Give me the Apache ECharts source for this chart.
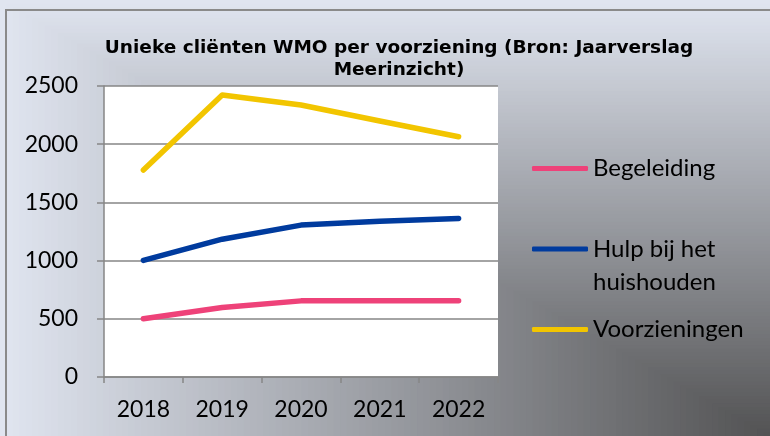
<!DOCTYPE html>
<html>
<head>
<meta charset="utf-8">
<script src="https://cdn.jsdelivr.net/npm/echarts@6/dist/echarts.min.js"></script>
<style>
  html, body { margin: 0; padding: 0; background: #fff; }
  #chart { width: 770px; height: 436px; }
</style>
</head>
<body>
<div id="chart"></div>
<script>
// Unique WMO clients per service, 2018-2022
const years = ['2018', '2019', '2020', '2021', '2022'];
const begeleiding = [500, 597, 654, 655, 656];
const hulpBijHetHuishouden = [1002, 1184, 1305, 1339, 1362];
const voorzieningen = [1778, 2423, 2337, 2199, 2064];
const seriesNames = ['Begeleiding', 'Hulp bij het huishouden', 'Voorzieningen'];
const seriesColors = ['#ee4279', '#003b9e', '#f2c500'];
const yTicks = { min: 0, max: 2500, interval: 500 };

const W = 770, H = 436;
const chart = echarts.init(document.getElementById('chart'), null, { renderer: 'canvas', width: W, height: H });

const labelFont = 'Lato, "Open Sans", sans-serif';

// Corner gradient: nested rectangles anchored at the bottom-right corner,
// going from dark grey in the corner to a pale blue-grey further out.
const dark = [82, 82, 83], light = [224, 229, 240];
function mix(t) {
  const c = dark.map((d, k) => Math.round(d + (light[k] - d) * t));
  return 'rgb(' + c.join(',') + ')';
}
const backdrop = [];
const STEPS = 120;
for (let k = STEPS; k >= 1; k--) {
  const t = k / STEPS;
  backdrop.push({
    type: 'rect',
    shape: { x: W - W * t, y: H - H * t, width: W * t, height: H * t },
    style: { fill: mix(t) },
    silent: true,
    z: -10
  });
}

function legendFor(name, top, extra) {
  return Object.assign({
    data: [name],
    left: 532,
    top: top,
    padding: 0,
    icon: 'roundRect',
    itemWidth: 56,
    itemHeight: 5,
    selectedMode: false,
    textStyle: {
      fontFamily: labelFont,
      fontSize: 24,
      color: '#000',
      lineHeight: 33
    }
  }, extra || {});
}

const values = [begeleiding, hulpBijHetHuishouden, voorzieningen];

chart.setOption({
  animation: false,
  backgroundColor: 'rgb(224,229,240)',
  graphic: backdrop.concat([{
    type: 'rect',
    shape: { x: 6, y: 10, width: 800, height: 460 },
    style: { fill: 'none', stroke: '#8a8a8a', lineWidth: 2 },
    silent: true,
    z: 100
  }]),
  title: {
    text: 'Unieke cliënten WMO per voorziening (Bron: Jaarverslag\nMeerinzicht)',
    left: 394,
    textAlign: 'center',
    top: 32,
    textStyle: {
      fontFamily: '"DejaVu Sans", sans-serif',
      fontWeight: 'bold',
      fontSize: 18.5,
      lineHeight: 22,
      color: '#000'
    }
  },
  legend: [
    legendFor(seriesNames[0], 152),
    // blank first line keeps the icon level with the first text line
    legendFor(seriesNames[1], 199.5, {
      formatter: () => ' \nHulp bij het\nhuishouden'
    }),
    legendFor(seriesNames[2], 313)
  ],
  grid: {
    left: 104,
    right: 272,
    top: 86,
    bottom: 59,
    show: true,
    backgroundColor: '#ffffff',
    borderWidth: 0
  },
  xAxis: {
    type: 'category',
    data: years,
    boundaryGap: true,
    axisLine: { show: true, lineStyle: { color: '#868686', width: 1.5 } },
    axisTick: { show: true, length: 6, inside: false, lineStyle: { color: '#868686', width: 1.5 } },
    axisLabel: { fontFamily: labelFont, fontSize: 23, color: '#000', margin: 21 },
    splitLine: { show: false }
  },
  yAxis: {
    type: 'value',
    min: yTicks.min,
    max: yTicks.max,
    interval: yTicks.interval,
    axisLine: { show: true, lineStyle: { color: '#868686', width: 1.5 } },
    axisTick: { show: true, length: 7, inside: false, lineStyle: { color: '#868686', width: 1.5 } },
    axisLabel: {
      fontFamily: labelFont, fontSize: 23, color: '#000', margin: 26,
      formatter: v => String(v)
    },
    splitLine: { show: true, lineStyle: { color: '#868686', width: 1.5 } }
  },
  series: seriesNames.map((name, i) => ({
    name: name,
    type: 'line',
    data: values[i],
    symbol: 'none',
    smooth: false,
    color: seriesColors[i],
    lineStyle: { width: 5.5, color: seriesColors[i], cap: 'round', join: 'round' },
    z: 3 + i
  }))
});
</script>
</body>
</html>
